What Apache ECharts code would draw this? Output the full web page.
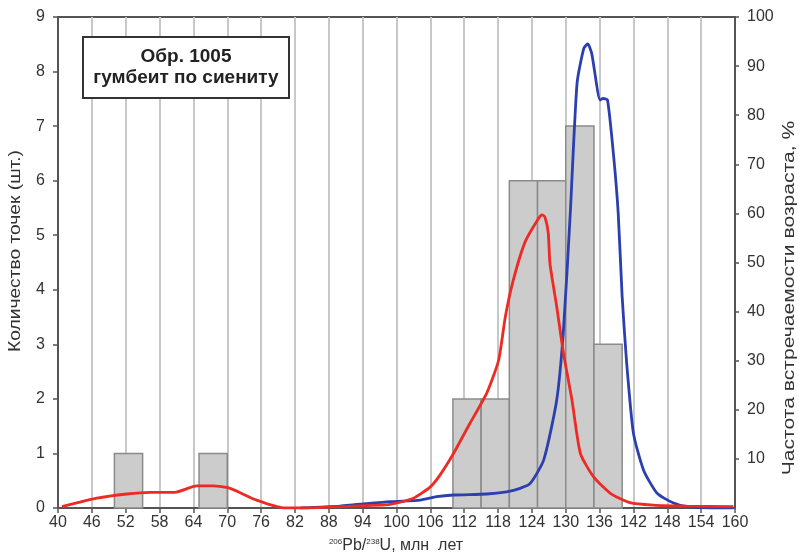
<!DOCTYPE html>
<html>
<head>
<meta charset="utf-8">
<script src="https://cdn.jsdelivr.net/npm/echarts@6/dist/echarts.min.js"></script>
<style>
html,body{margin:0;padding:0;background:#fff;}
#chart{width:799px;height:556px;}
</style>
</head>
<body>
<div id="chart"></div>
<script>
// Histogram bins: [start age, end age, count]
const binStart = [50, 65, 110, 115, 120, 125, 130, 135];
const binEnd   = [55, 70, 115, 120, 125, 130, 135, 140];
const binCount = [1, 1, 2, 2, 6, 6, 7, 3];

// Red curve (age, %)
const redAge = [40.7, 46.9, 52.2, 56.3, 60.7, 64.6, 67.5, 70.5, 75.2, 80.2, 84.1, 90, 98.9, 103, 106, 107.7, 110.1, 113.0, 116.0, 118.1, 119.3, 120.7, 122.8, 125.2, 125.8, 126.3, 126.9, 127.2, 128.4, 129.6, 131.1, 132.6, 134.9, 137.9, 141.4, 145.5, 151.5, 159.7];
const redVal = [0.3, 2.0, 2.85, 3.2, 3.2, 4.5, 4.5, 4.0, 1.6, 0.0, 0.0, 0.3, 0.75, 2.0, 4.3, 6.7, 11.1, 17.2, 23.4, 30.1, 39, 46.4, 54.2, 59, 59.7, 59.3, 56, 49.8, 41, 31.5, 22, 11.1, 6.4, 3.0, 1.1, 0.6, 0.4, 0.3];

// Blue curve (age, %)
const blueAge = [83, 90, 98.9, 104.2, 107.1, 110.1, 116, 119.5, 121.9, 123.7, 126.1, 128.4, 129.6, 130.8, 132, 133.2, 133.9, 134.6, 136.1, 136.6, 137.4, 138.5, 139.3, 140, 140.8, 142, 143.8, 146.2, 149.1, 151.5, 157.4, 159.7];
const blueVal = [0, 0.4, 1.3, 1.6, 2.3, 2.65, 2.85, 3.3, 4.0, 5.0, 9.8, 22, 36.3, 60, 86.5, 93.6, 94.5, 92.6, 83.1, 83.4, 83.1, 71.5, 60, 43, 29.5, 15.2, 7.7, 3.0, 1.0, 0.3, 0, 0];

const xTickMin = 40, xTickMax = 160, xTickStep = 6;
const leftMax = 9, rightMax = 100;

const chart = echarts.init(document.getElementById('chart'), null, {renderer: 'canvas'});
const FONT = '"Liberation Sans", Arial, sans-serif';

const binData = binStart.map((s, i) => [s, binEnd[i], binCount[i]]);
const redData = redAge.map((a, i) => [a, redVal[i]]);
const blueData = blueAge.map((a, i) => [a, blueVal[i]]);

const option = {
  backgroundColor: '#ffffff',
  animation: false,
  grid: {left: 58, right: 64, top: 17, bottom: 48, show: true, borderColor: '#555', borderWidth: 2, backgroundColor: 'transparent'},
  xAxis: {
    type: 'value', min: xTickMin, max: xTickMax, interval: xTickStep,
    axisLine: {show: true, lineStyle: {color: '#555', width: 2}},
    axisTick: {show: true, length: 5, lineStyle: {color: '#555', width: 1.5}},
    axisLabel: {color: '#333', fontSize: 16, fontFamily: FONT, margin: 7},
    splitLine: {show: true, lineStyle: {color: '#c8c8c8', width: 2}}
  },
  yAxis: [
    {
      type: 'value', min: 0, max: leftMax, interval: 1, position: 'left',
      axisLine: {show: true, lineStyle: {color: '#555', width: 2}},
      axisTick: {show: true, inside: false, length: 5, lineStyle: {color: '#555', width: 1.5}},
      axisLabel: {color: '#333', fontSize: 16, fontFamily: FONT, margin: 13},
      splitLine: {show: false}
    },
    {
      type: 'value', min: 0, max: rightMax, interval: 10, position: 'right',
      axisLine: {show: true, lineStyle: {color: '#555', width: 2}},
      axisTick: {show: true, length: 4, lineStyle: {color: '#555', width: 1.5}},
      axisLabel: {color: '#333', fontSize: 16, fontFamily: FONT, margin: 12, showMinLabel: false},
      splitLine: {show: false}
    }
  ],
  series: [
    {
      type: 'custom', xAxisIndex: 0, yAxisIndex: 0, z: 2,
      data: binData,
      encode: {x: [0, 1], y: 2},
      renderItem: function (params, api) {
        const p0 = api.coord([api.value(0), api.value(2)]);
        const p1 = api.coord([api.value(1), 0]);
        return {
          type: 'rect',
          shape: {x: p0[0], y: p0[1], width: p1[0] - p0[0], height: p1[1] - p0[1]},
          style: {fill: '#cccccc', stroke: '#8a8a8a', lineWidth: 1.5}
        };
      }
    },
    {
      type: 'line', yAxisIndex: 1, data: blueData, showSymbol: false, smooth: 0.2, z: 3,
      lineStyle: {color: '#2b3fae', width: 2.8}
    },
    {
      type: 'line', yAxisIndex: 1, data: redData, showSymbol: false, smooth: 0.2, z: 4,
      lineStyle: {color: '#ee2a24', width: 2.8}
    }
  ],
  graphic: [
    {
      type: 'rect', x: 83, y: 37, z: 10,
      shape: {width: 206, height: 61},
      style: {fill: '#fff', stroke: '#333', lineWidth: 2}
    },
    {
      type: 'text', x: 186, y: 57, z: 11,
      style: {text: 'Обр. 1005', font: 'bold 19px ' + FONT, fill: '#222', align: 'center', verticalAlign: 'middle'}
    },
    {
      type: 'text', x: 186, y: 78, z: 11,
      style: {text: 'гумбеит по сиениту', font: 'bold 19px ' + FONT, fill: '#222', align: 'center', verticalAlign: 'middle'}
    },
    {
      type: 'text', x: 16, y: 251, rotation: Math.PI / 2, scaleX: 1.2, z: 11,
      style: {text: 'Количество точек (шт.)', font: '16px ' + FONT, fill: '#333', align: 'center', verticalAlign: 'middle'}
    },
    {
      type: 'text', x: 790, y: 298, rotation: Math.PI / 2, scaleX: 1.32, z: 11,
      style: {text: 'Частота встречаемости возраста, %', font: '16px ' + FONT, fill: '#333', align: 'center', verticalAlign: 'middle'}
    },
    {
      type: 'text', z: 11, x: 396, y: 546,
      style: {
        text: '{s|206}{n|Pb/}{s|238}{n|U, млн  лет}',
        align: 'center', verticalAlign: 'middle',
        rich: {
          s: {fontSize: 8, fontFamily: FONT, fill: '#333', padding: [0, 0, 8, 0]},
          n: {fontSize: 16, fontFamily: FONT, fill: '#333'}
        }
      }
    }
  ]
};
chart.setOption(option);
</script>
</body>
</html>
